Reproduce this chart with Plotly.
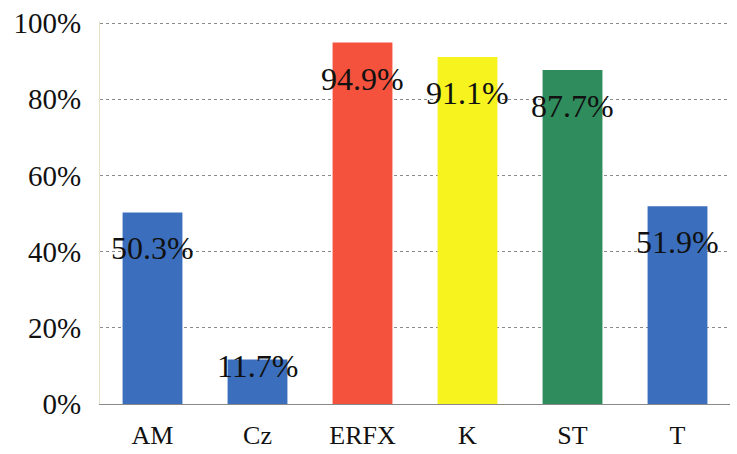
import plotly.graph_objects as go

categories = ["AM", "Cz", "ERFX", "K", "ST", "T"]
values = [50.3, 11.7, 94.9, 91.1, 87.7, 51.9]
labels = ["50.3%", "11.7%", "94.9%", "91.1%", "87.7%", "51.9%"]
colors = ["#3b6fbd", "#3b6fbd", "#f5523e", "#f7f31f", "#2f8c5c", "#3b6fbd"]
tick_vals = [0, 20, 40, 60, 80, 100]
tick_text = ["0%", "20%", "40%", "60%", "80%", "100%"]

font_family = "Liberation Serif, Times New Roman, serif"

fig = go.Figure()
fig.add_trace(go.Bar(
    x=categories, y=values, marker=dict(color=colors, line=dict(width=0)),
    width=0.57, hoverinfo="skip"))

for c, v, t in zip(categories, values, labels):
    fig.add_annotation(
        x=c, y=v, text=t, showarrow=False, yanchor="middle",
        yshift=-36 if v > 20 else -7,
        font=dict(family=font_family, size=32, color="#111111"))

fig.update_layout(
    width=737, height=454,
    margin=dict(l=100, r=7, t=22, b=50, autoexpand=False),
    paper_bgcolor="white", plot_bgcolor="white",
    showlegend=False,
    font=dict(family=font_family, color="#111111"),
)
fig.update_yaxes(
    range=[0, 100.3], tickvals=tick_vals, ticktext=tick_text,
    tickfont=dict(size=29), ticks="", ticklabelstandoff=12, automargin=False,
    showgrid=True, gridcolor="#8a8a8a", griddash="dot", gridwidth=1,
    zeroline=False, showline=True, linecolor="#e6e0c8", linewidth=1,
)
fig.update_xaxes(
    tickfont=dict(size=26), ticks="", ticklabelstandoff=8, automargin=False,
    showline=True, linecolor="#8a8a8a", linewidth=1,
    range=[-0.5, 5.5],
)

fig.write_html("out.html")
